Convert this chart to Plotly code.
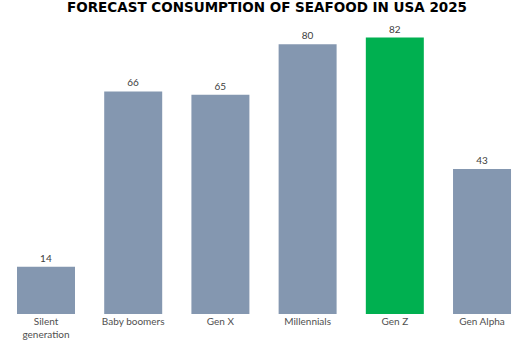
import plotly.graph_objects as go

categories = ["Silent<br>generation", "Baby boomers", "Gen X", "Millennials", "Gen Z", "Gen Alpha"]
values = [14, 66, 65, 80, 82, 43]
colors = ["#8497B0", "#8497B0", "#8497B0", "#8497B0", "#00B050", "#8497B0"]
title_text = "FORECAST CONSUMPTION OF SEAFOOD IN USA 2025"

fig = go.Figure(go.Bar(
    x=list(range(len(categories))), y=values,
    marker=dict(color=colors, line=dict(width=0)),
    text=[str(v) for v in values], textposition="outside",
    textfont=dict(family="Lato", size=10, color="#404040"),
    cliponaxis=False,
))

fig.update_layout(
    width=519, height=359,
    margin=dict(l=0, r=0, t=20, b=45),
    paper_bgcolor="white", plot_bgcolor="white",
    bargap=0.335,
    showlegend=False,
    xaxis=dict(range=[-0.5275, 5.424], tickmode="array",
               tickvals=list(range(len(categories))), ticktext=categories,
               tickfont=dict(family="Lato", size=10, color="#505050"),
               showgrid=False, zeroline=False, showline=False, ticks=""),
    yaxis=dict(range=[0, 87.2], visible=False, showgrid=False),
    annotations=[dict(text="<b>" + title_text + "</b>", x=0.515, y=1,
                      xref="paper", yref="paper", yanchor="bottom", yshift=3,
                      showarrow=False,
                      font=dict(family="DejaVu Sans", size=13.5, color="#000000"))],
)

fig.write_html("out.html")
